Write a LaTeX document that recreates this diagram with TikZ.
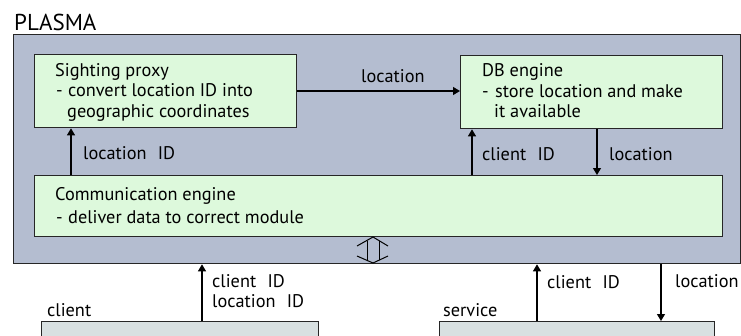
\documentclass[tikz,border=0pt]{standalone}
\usepackage{fontspec}
\setmainfont{PT Sans}
\usetikzlibrary{arrows.meta}
\definecolor{outerfill}{HTML}{B4BDD0}
\definecolor{greenfill}{HTML}{DDF9DC}
\definecolor{greyfill}{HTML}{D8E0E1}
\tikzset{
  boxstyle/.style={draw=black!85, line width=1.3pt, anchor=north west, inner sep=0pt},
  gbox/.style={boxstyle, fill=greenfill},
  txt/.style={anchor=base west, inner sep=0pt, font=\fontsize{18.3}{21}\selectfont},
  big/.style={anchor=base west, inner sep=0pt, font=\fontsize{23}{27}\selectfont},
  conn/.style={draw=black, line width=1.2pt, -{Triangle[length=7pt,width=8pt]}},
  plain/.style={draw=black, line width=1pt},
}
\begin{document}
\begin{tikzpicture}[x=1pt,y=-1pt]
\useasboundingbox (0,0) rectangle (741,335);
\fill[white] (0,0) rectangle (741,335);
% outer
\node[big] (plasma) at (14,30) {PLASMA};
\node[boxstyle, fill=outerfill, minimum width=727pt, minimum height=229pt] (outer) at (13,34) {};
% boxes
\node[gbox, minimum width=262pt, minimum height=73pt] (sp) at (34,54) {};
\node[gbox, minimum width=262pt, minimum height=73pt] (db) at (460,55) {};
\node[gbox, minimum width=688pt, minimum height=61pt] (ce) at (34,175) {};
\node[boxstyle, fill=greyfill, minimum width=277pt, minimum height=40pt] (cl) at (41,321) {};
\node[boxstyle, fill=greyfill, minimum width=275pt, minimum height=40pt] (sv) at (439,321) {};
% texts
\node[txt] (sp1) at (55,76) {Sighting proxy};
\node[txt] (sp2) at (56,96.5) {-};
\node[txt] (sp2b) at (68,96.5) {convert location ID into};
\node[txt] (sp3) at (67,117) {geographic coordinates};
\node[txt] (db1) at (482,76) {DB engine};
\node[txt] (db2) at (482,97) {-};
\node[txt] (db2b) at (495,97) {store location and make};
\node[txt] (db3) at (494,117) {it available};
\node[txt] (ce1) at (55,200) {Communication engine};
\node[txt] (ce2) at (56,223) {-};
\node[txt] (ce2b) at (68,223) {deliver data to correct module};
\node[txt] (lclient) at (47,316) {client};
\node[txt] (lservice) at (443,316) {service};
% connectors
\coordinate (a1) at (71,0);
\draw[conn] (ce.north -| a1) -- (sp.south -| a1);
\node[txt] (l1) at (83,159) {location\hspace{0.35em} ID};
\coordinate (a2) at (0,91);
\draw[conn] (sp.east |- a2) -- (db.west |- a2);
\node[txt] (l2) at (361,82) {location};
\coordinate (a3) at (472,0);
\draw[conn] (ce.north -| a3) -- (db.south -| a3);
\node[txt] (l3) at (482,160) {client\hspace{0.35em} ID};
\coordinate (a4) at (597,0);
\draw[conn] (db.south -| a4) -- (ce.north -| a4);
\node[txt] (l4) at (609,160) {location};
\coordinate (a5) at (202,0);
\draw[conn] (cl.north -| a5) -- (outer.south -| a5);
\node[txt] (l5) at (212,287) {client\hspace{0.35em} ID};
\node[txt] (l6) at (212,307) {location\hspace{0.35em} ID};
\coordinate (a6) at (537,0);
\draw[conn] (sv.north -| a6) -- (outer.south -| a6);
\node[txt] (l7) at (547,288) {client\hspace{0.35em} ID};
\coordinate (a7) at (661,0);
\draw[conn] (outer.south -| a7) -- (sv.north -| a7);
\node[txt] (l8) at (675,287) {location};
% double arrow symbol
\draw[plain] (357,246) -- (373,237) -- (388,246);
\draw[plain] (357,256) -- (373,263) -- (388,256);
\draw[plain] (367,241) -- (367,260);
\draw[plain] (379,241) -- (379,260);
\end{tikzpicture}
\end{document}
